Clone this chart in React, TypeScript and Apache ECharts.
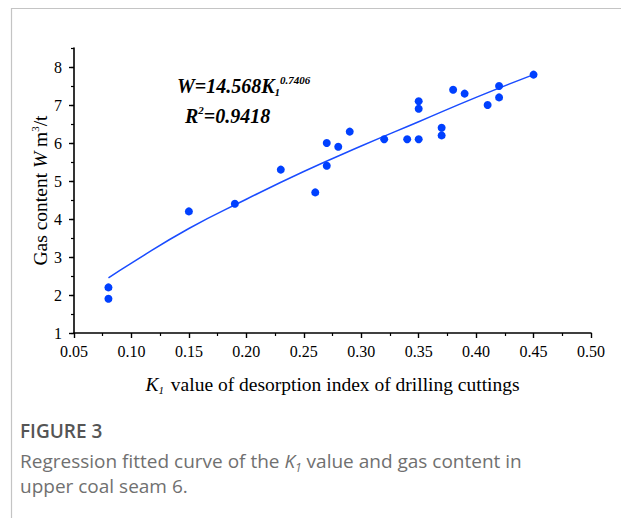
import React, { useEffect, useRef } from "react";
import * as echarts from "echarts";

// Scatter points: K1 value and gas content W
const pointK = [0.08, 0.08, 0.15, 0.19, 0.23, 0.26, 0.27, 0.27, 0.28, 0.29, 0.32, 0.34, 0.35, 0.35, 0.35, 0.37, 0.37, 0.38, 0.39, 0.41, 0.42, 0.42, 0.45];
const pointW = [2.2, 1.9, 4.2, 4.4, 5.3, 4.7, 5.4, 6.0, 5.9, 6.3, 6.1, 6.1, 6.1, 6.9, 7.1, 6.2, 6.4, 7.4, 7.3, 7.0, 7.2, 7.5, 7.8];

// Fitted curve
const fitK = [0.08, 0.1, 0.15, 0.2, 0.25, 0.3, 0.35, 0.4, 0.45];
const fitW = [2.45, 2.84, 3.75, 4.52, 5.25, 5.92, 6.56, 7.2, 7.8];

const yMajorTicks = [1, 2, 3, 4, 5, 6, 7, 8];

const SERIF = "'Liberation Serif', 'Times New Roman', serif";
const SANS = "'Open Sans', 'Noto Sans', sans-serif";

export default function App() {
  const ref = useRef<HTMLDivElement>(null);

  useEffect(() => {
    if (!ref.current) return;
    const chart = echarts.init(ref.current, undefined, { renderer: "svg" });

    const axisLine = { show: true, lineStyle: { color: "#000", width: 1.6 } };

    chart.setOption({
      animation: false,
      backgroundColor: "#fff",
      grid: { left: 74, right: 30, top: 48, bottom: 185 },
      xAxis: {
        type: "value",
        min: 0.05,
        max: 0.5,
        interval: 0.05,
        axisLine: { ...axisLine, onZero: false },
        axisTick: { show: true, length: 5, lineStyle: { color: "#000", width: 1.4 } },
        minorTick: { show: true, splitNumber: 2, length: 3, lineStyle: { color: "#000", width: 1.2 } },
        splitLine: { show: false },
        axisLabel: {
          fontFamily: SERIF,
          fontSize: 16,
          color: "#000",
          margin: 10,
          formatter: (v: number) => v.toFixed(2),
        },
        name: "{i|K}{sub|1}{n| value of desorption index of drilling cuttings}",
        nameLocation: "middle",
        nameGap: 40,
        nameMoveOverlap: false,
        nameTextStyle: {
          fontFamily: SERIF,
          fontSize: 19.5,
          color: "#000",
          rich: {
            i: { fontFamily: SERIF, fontSize: 19.5, fontStyle: "italic", color: "#000", lineHeight: 22 },
            sub: { fontFamily: SERIF, fontSize: 11, fontStyle: "italic", color: "#000", verticalAlign: "bottom", lineHeight: 12, padding: [0, 2, 0, 0] },
            n: { fontFamily: SERIF, fontSize: 19.5, color: "#000", lineHeight: 22 },
          },
        },
      },
      yAxis: [
        {
          type: "value",
          min: 1,
          max: 8.5,
          interval: 1,
          axisLine: { ...axisLine, onZero: false },
          axisTick: { show: true, length: 5, customValues: yMajorTicks, lineStyle: { color: "#000", width: 1.4 } },
          splitLine: { show: false },
          axisLabel: {
            fontFamily: SERIF,
            fontSize: 16,
            color: "#000",
            margin: 12,
            customValues: yMajorTicks,
            formatter: (v: number) => (Number.isInteger(v) ? String(v) : ""),
          },
          name: "{n|Gas content }{i|W}{n| m}{sup|3}{n|/t}",
          nameLocation: "middle",
          nameRotate: 90,
          nameGap: 23,
          nameMoveOverlap: false,
          nameTextStyle: {
            fontFamily: SERIF,
            fontSize: 19.5,
            color: "#000",
            rich: {
              n: { fontFamily: SERIF, fontSize: 19.5, color: "#000", lineHeight: 22 },
              i: { fontFamily: SERIF, fontSize: 19.5, fontStyle: "italic", color: "#000", lineHeight: 22 },
              sup: { fontFamily: SERIF, fontSize: 11, color: "#000", verticalAlign: "top", lineHeight: 12 },
            },
          },
        },
        {
          type: "value",
          min: 1,
          max: 8.5,
          interval: 0.5,
          position: "left",
          axisLine: { show: false, onZero: false },
          axisTick: { show: true, length: 3, lineStyle: { color: "#000", width: 1.2 } },
          axisLabel: { show: false },
          splitLine: { show: false },
        },
      ],
      series: [
        {
          type: "line",
          data: fitK.map((k, i) => [k, fitW[i]]),
          smooth: true,
          showSymbol: false,
          symbol: "none",
          lineStyle: { color: "#1a4cff", width: 1.5 },
          z: 2,
        },
        {
          type: "scatter",
          data: pointK.map((k, i) => [k, pointW[i]]),
          symbol: "circle",
          symbolSize: 8,
          itemStyle: { color: "#0040ff", opacity: 1 },
          z: 3,
        },
      ],
      graphic: [
        { type: "line", shape: { x1: 11, y1: 8.5, x2: 621, y2: 8.5 }, style: { stroke: "#c4c4c4", lineWidth: 1.2 } },
        { type: "line", shape: { x1: 11.5, y1: 8, x2: 11.5, y2: 518 }, style: { stroke: "#c4c4c4", lineWidth: 1.2 } },
        {
          type: "text",
          x: 177,
          y: 74,
          style: {
            text: "{m|W=14.568K}{s|1}{p|0.7406}",
            textVerticalAlign: "top",
            rich: {
              m: { fontFamily: SERIF, fontSize: 20, fontWeight: "bold", fontStyle: "italic", fill: "#000", lineHeight: 23 },
              s: { fontFamily: SERIF, fontSize: 11, fontWeight: "bold", fontStyle: "italic", fill: "#000", lineHeight: 12, verticalAlign: "bottom" },
              p: { fontFamily: SERIF, fontSize: 11, fontWeight: "bold", fontStyle: "italic", fill: "#000", lineHeight: 14, verticalAlign: "top" },
            },
          },
        },
        {
          type: "text",
          x: 185,
          y: 104,
          style: {
            text: "{m|R}{p|2}{m|=0.9418}",
            textVerticalAlign: "top",
            rich: {
              m: { fontFamily: SERIF, fontSize: 20, fontWeight: "bold", fontStyle: "italic", fill: "#000", lineHeight: 23 },
              p: { fontFamily: SERIF, fontSize: 11, fontWeight: "bold", fontStyle: "italic", fill: "#000", lineHeight: 14, verticalAlign: "top" },
            },
          },
        },
        {
          type: "text",
          x: 20,
          y: 421,
          style: { text: "FIGURE 3", fontFamily: SANS, fontSize: 19, fontWeight: 600, fill: "#555", textVerticalAlign: "top" },
        },
        {
          type: "text",
          x: 20,
          y: 448,
          style: {
            text: "{n|Regression fitted curve of the }{i|K}{s|1}{n| value and gas content in}\n{n|upper coal seam 6.}",
            textVerticalAlign: "top",
            rich: {
              n: { fontFamily: SANS, fontSize: 19, fill: "#707070", lineHeight: 25 },
              i: { fontFamily: SANS, fontSize: 19, fontStyle: "italic", fill: "#707070", lineHeight: 25 },
              s: { fontFamily: SANS, fontSize: 12, fontStyle: "italic", fill: "#707070", lineHeight: 14, verticalAlign: "bottom" },
            },
          },
        },
      ],
    });

    return () => chart.dispose();
  }, []);

  return (
    <div
      ref={ref}
      style={{ position: "fixed", left: 0, top: 0, width: 621, height: 518, background: "#fff" }}
    />
  );
}
